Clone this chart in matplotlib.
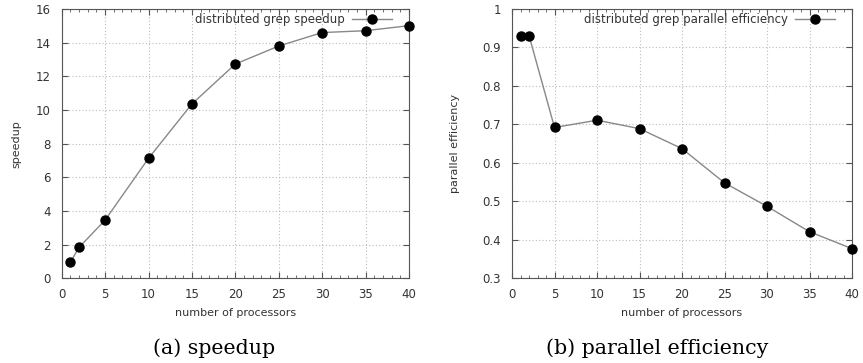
import matplotlib
matplotlib.use("Agg")
import matplotlib.pyplot as plt
from matplotlib.ticker import MultipleLocator

processors = [1, 2, 5, 10, 15, 20, 25, 30, 35, 40]
speedup = [0.96, 1.84, 3.46, 7.13, 10.36, 12.73, 13.8, 14.6, 14.71, 15.01]
efficiency = [0.931, 0.931, 0.692, 0.711, 0.689, 0.637, 0.548, 0.487, 0.421, 0.377]

fig = plt.figure(figsize=(8.63, 3.63), dpi=100)
ax1 = fig.add_axes([0.0715, 0.2333, 0.4024, 0.7419])
ax2 = fig.add_axes([0.5933, 0.2333, 0.394, 0.7419])

txtcol = "#333333"
for ax, ys, lab, ylab, ylim, ymaj, ypad in [
    (ax1, speedup, "distributed grep speedup", "speedup", (0, 16), 2, 10),
    (ax2, efficiency, "distributed grep parallel efficiency", "parallel efficiency", (0.3, 1.0), 0.1, 16),
]:
    ax.plot(processors, ys, color="#888888", lw=1.0, marker="o", ms=6.5,
            mfc="black", mec="black", label=lab, clip_on=False, zorder=3)
    ax.set_xlim(0, 40)
    ax.set_ylim(*ylim)
    ax.xaxis.set_major_locator(MultipleLocator(5))
    ax.xaxis.set_minor_locator(MultipleLocator(1))
    ax.yaxis.set_major_locator(MultipleLocator(ymaj))
    ax.grid(True, which="major", color="#bbbbbb", ls=(0, (1, 2)), lw=0.8)
    ax.tick_params(which="both", direction="in", top=True, right=True,
                   labelsize=8.5, labelcolor=txtcol, color="#555555")
    ax.tick_params(which="major", length=4)
    ax.tick_params(axis="x", which="major", pad=7)
    ax.tick_params(axis="y", which="major", pad=8)
    ax.tick_params(which="minor", length=2)
    for s in ax.spines.values():
        s.set_color("#555555")
        s.set_linewidth(0.8)
    ax.set_xlabel("number of processors", fontsize=8, color=txtcol, labelpad=5)
    ax.set_ylabel(ylab, fontsize=8, color=txtcol, labelpad=ypad)
    wpx = ax.get_position().width * 863
    hpx = ax.get_position().height * 363
    leg = ax.legend(loc="upper right", frameon=False, markerfirst=False,
                    fontsize=8.5, handlelength=3.4, borderaxespad=0,
                    borderpad=0, handletextpad=0.6,
                    bbox_to_anchor=(1 - 17 / wpx, 1 - 4 / hpx))
    for t in leg.get_texts():
        t.set_color(txtcol)

ax2.yaxis.set_major_formatter(matplotlib.ticker.FuncFormatter(
    lambda v, p: "1" if abs(v - 1) < 1e-9 else f"{v:.1f}"))

fig.text(214 / 863, 1 - 348 / 363, "(a) speedup", family="DejaVu Serif",
         fontsize=14.8, ha="center", va="center")
fig.text(657 / 863, 1 - 348 / 363, "(b) parallel efficiency", family="DejaVu Serif",
         fontsize=14.8, ha="center", va="center")

fig.savefig("out.png", dpi=100)
